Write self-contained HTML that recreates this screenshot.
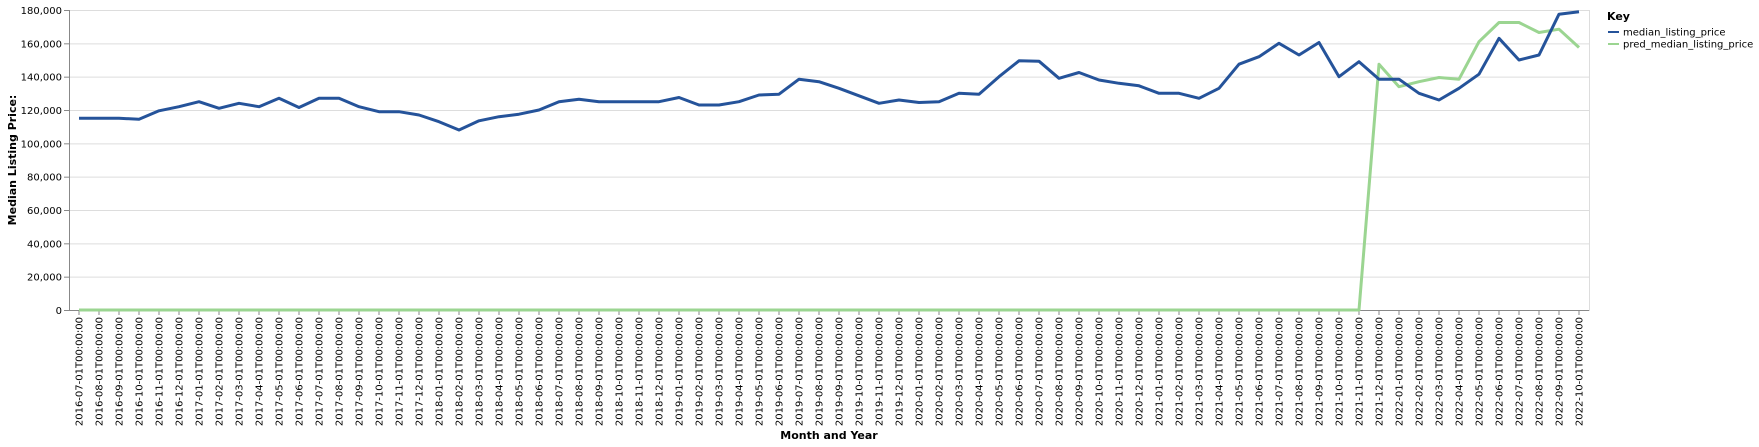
<!DOCTYPE html>
<html><head><meta charset="utf-8"><meta name="viewport" content="width=1759"><style>
html,body{margin:0;padding:0;background:#fff;width:1759px;height:447px;overflow:hidden;}
svg{display:block;}
svg text{font-family:"DejaVu Sans","Liberation Sans",sans-serif;}
</style></head><body>
<svg id="chart" width="1759" height="447" viewBox="0 0 1759 447" xmlns="http://www.w3.org/2000/svg"></svg>
<script>
const months = [];
for (let y = 2016, m = 7; !(y === 2022 && m === 11); ) {
  months.push(y + '-' + String(m).padStart(2, '0') + '-01T00:00:00');
  m++; if (m > 12) { m = 1; y++; }
}
const medianValues = [115000,115000,115000,114500,119500,122000,125000,121000,124000,122000,127000,121500,127000,127000,122000,119000,119000,117000,113000,108000,113500,116000,117500,120000,125000,126500,125000,125000,125000,125000,127500,123000,123000,125000,129000,129500,138500,137000,133000,128500,124000,126000,124500,125000,130000,129500,140000,149500,149300,139000,142500,138000,136000,134500,130000,130000,127000,133000,147500,152000,160000,153000,160500,140000,149000,138500,138500,130000,126000,133000,141500,163000,150000,153000,177500,179000];
const predValues = [0,0,0,0,0,0,0,0,0,0,0,0,0,0,0,0,0,0,0,0,0,0,0,0,0,0,0,0,0,0,0,0,0,0,0,0,0,0,0,0,0,0,0,0,0,0,0,0,0,0,0,0,0,0,0,0,0,0,0,0,0,0,0,0,0,147500,134000,137000,139500,138500,161000,172500,172500,166500,168500,157500];
const yTicks = [0,20000,40000,60000,80000,100000,120000,140000,160000,180000];

const NS = 'http://www.w3.org/2000/svg';
const svg = document.getElementById('chart');
const L = 69, R = 1589, T = 10, B = 310, yMax = 180000;
const step = (R - L) / months.length;
const xs = i => L + step * (i + 0.5);
const ys = v => B - v / yMax * (B - T);
function mk(tag, attrs, parent) {
  const e = document.createElementNS(NS, tag);
  for (const k in attrs) e.setAttribute(k, attrs[k]);
  (parent || svg).appendChild(e); return e;
}
yTicks.forEach(t => {
  const g = mk('line', {x1: L, x2: R, y1: ys(t) + 0.5, y2: ys(t) + 0.5, stroke: '#ddd', 'stroke-width': 1});
  
  
});
const frame = mk('rect', {x: L + 0.5, y: T + 0.5, width: R - L, height: B - T, fill: 'none', stroke: '#ddd'});


mk('line', {x1: L + 0.5, x2: L + 0.5, y1: T, y2: B, stroke: '#888'});
yTicks.forEach(t => {
  mk('line', {x1: L - 5, x2: L, y1: ys(t) + 0.5, y2: ys(t) + 0.5, stroke: '#888'});
  const tx = mk('text', {x: L - 7, y: ys(t) + 4, 'text-anchor': 'end', 'font-size': 10, fill: '#000'});
  tx.textContent = t.toLocaleString('en-US');
  
  
});
mk('line', {x1: L, x2: R, y1: B + 0.5, y2: B + 0.5, stroke: '#888'});
months.forEach((m, i) => {
  const x = xs(i);
  mk('line', {x1: x, x2: x, y1: B, y2: B + 5, stroke: '#888'});
  const tx = mk('text', {x: 0, y: 0, 'text-anchor': 'end', 'font-size': 10, fill: '#000', transform: `translate(${x + 3.5},${B + 7}) rotate(-90)`});
  tx.textContent = m;
  
  
});
const xt = mk('text', {x: (L + R) / 2, y: 439, 'text-anchor': 'middle', 'font-size': 11, 'font-weight': 'bold'});
xt.textContent = 'Month and Year';


const yt = mk('text', {x: 0, y: 0, 'text-anchor': 'middle', 'font-size': 11, 'font-weight': 'bold', transform: `translate(16,${(T + B) / 2}) rotate(-90)`});
yt.textContent = 'Median Listing Price:';


function line(vals, color, name) {
  const p = mk('path', {d: vals.map((v, i) => (i ? 'L' : 'M') + xs(i).toFixed(1) + ',' + ys(v).toFixed(1)).join(''), fill: 'none', stroke: color, 'stroke-width': 3, 'stroke-linejoin': 'round'});
  
  
}
line(predValues, '#9bd591', 'pred-median-line');
line(medianValues, '#25539a', 'median-line');
const lg = mk('g', {});


const kt = mk('text', {x: 1607, y: 20, 'font-size': 11, 'font-weight': 'bold'}, lg);
kt.textContent = 'Key';
[['median_listing_price', '#25539a', 32], ['pred_median_listing_price', '#9bd591', 44]].forEach(([n, c, y]) => {
  const e = mk('g', {}, lg);
  
  
  mk('line', {x1: 1608, x2: 1619, y1: y, y2: y, stroke: c, 'stroke-width': 2}, e);
  const t = mk('text', {x: 1623, y: y + 3.5, 'font-size': 10}, e);
  t.textContent = n;
});
</script>
</body></html>
